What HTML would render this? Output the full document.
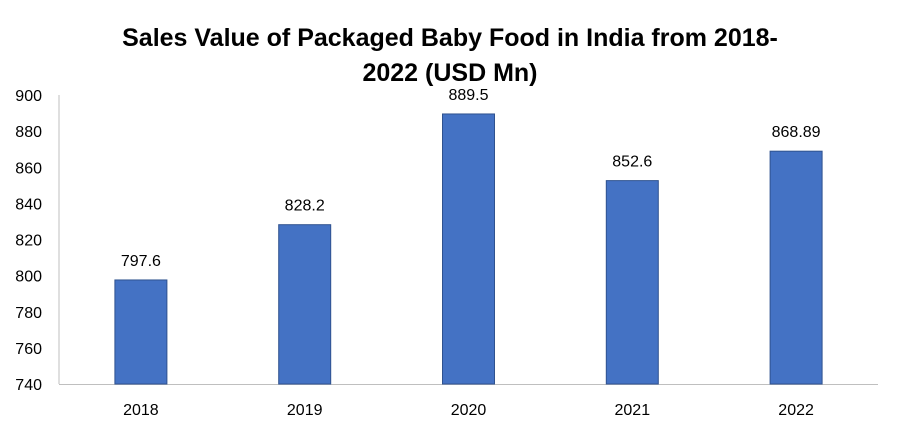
<!DOCTYPE html>
<html><head><meta charset="utf-8"><style>
html,body{margin:0;padding:0;background:#fff;}
svg{display:block;font-family:"Liberation Sans",sans-serif;}
</style></head><body>
<svg id="chart" width="900" height="446">
<text x="450" y="46" text-anchor="middle" font-size="25" font-weight="bold" fill="#000">Sales Value of Packaged Baby Food in India from 2018-</text>
<text x="450" y="81" text-anchor="middle" font-size="25" font-weight="bold" fill="#000">2022 (USD Mn)</text>
<g id="axes"></g>
<g id="bars"></g>
</svg>
<script>
const categories = ["2018","2019","2020","2021","2022"];
const values = [797.6, 828.2, 889.5, 852.6, 868.89];
const valueLabels = ["797.6","828.2","889.5","852.6","868.89"];
const yTicks = [740,760,780,800,820,840,860,880,900];

const NS = "http://www.w3.org/2000/svg";
const plotLeft = 59, plotRight = 878, plotTop = 95, plotBottom = 384;
const yMin = 740, yMax = 900;
function yScale(v){ return plotBottom - (v - yMin) / (yMax - yMin) * (plotBottom - plotTop); }
const band = (plotRight - plotLeft) / categories.length;
function xc(i){ return plotLeft + band * (i + 0.5); }
function mk(tag, attrs, parent){ const e = document.createElementNS(NS, tag); for (const k in attrs) e.setAttribute(k, attrs[k]); parent.appendChild(e); return e; }

const axesG = document.getElementById("axes");
const barsG = document.getElementById("bars");
yTicks.forEach(t => {
  const tx = mk("text", {x: 42, y: yScale(t) + 6, "text-anchor": "end", "font-size": 16, fill: "#000"}, axesG);
  tx.textContent = t;
  
  
});
const yAxis = mk("line", {x1: plotLeft, y1: plotTop, x2: plotLeft, y2: plotBottom, stroke: "#bfbfbf", "stroke-width": 1}, axesG);


const xAxis = mk("line", {x1: plotLeft, y1: plotBottom + 0.5, x2: plotRight, y2: plotBottom + 0.5, stroke: "#bfbfbf", "stroke-width": 1}, axesG);



const bw = 52;
categories.forEach((c, i) => {
  const cx = xc(i), barTop = yScale(values[i]);
  const r = mk("rect", {x: cx - bw/2, y: barTop, width: bw, height: plotBottom - barTop, fill: "#4472C4", stroke: "#2F528F", "stroke-width": 1}, barsG);
  
  
  const lb = mk("text", {x: cx, y: barTop - 14, "text-anchor": "middle", "font-size": 16, fill: "#000"}, barsG);
  lb.textContent = valueLabels[i];
  
  
  const xl = mk("text", {x: cx, y: 415, "text-anchor": "middle", "font-size": 16, fill: "#000"}, axesG);
  xl.textContent = c;
  
  
});
</script>
</body></html>
